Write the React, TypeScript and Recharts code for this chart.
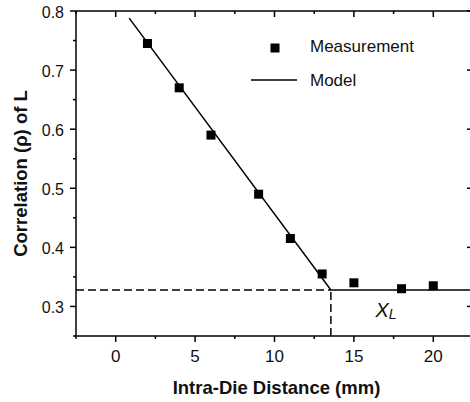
import React from "react";
import {
  ComposedChart,
  Line,
  Scatter,
  XAxis,
  YAxis,
  ReferenceLine,
  ReferenceDot,
  Legend,
  Label,
} from "recharts";

// measured points
const distance = [2, 4, 6, 9, 11, 13, 15, 18, 20];
const correlation = [0.745, 0.67, 0.59, 0.49, 0.415, 0.355, 0.34, 0.33, 0.335];

// piecewise model: falling line then flat at X_L
const modelX = [0.85, 13.55, 22.5];
const modelY = [0.788, 0.328, 0.328];

const xTicks = [-2.5, 0, 2.5, 5, 7.5, 10, 12.5, 15, 17.5, 20, 22.5];
const yTicks = [0.25, 0.3, 0.35, 0.4, 0.45, 0.5, 0.55, 0.6, 0.65, 0.7, 0.75, 0.8];

const xDomain = [-2.5, 22.5];
const yDomain = [0.25, 0.8];

const measurement = distance.map((x, i) => ({ x, y: correlation[i] }));
const model = modelX.map((x, i) => ({ x, y: modelY[i] }));
const kneeX = modelX[1];
const kneeY = modelY[1];

const FONT = "'Liberation Sans', Arial, Helvetica, sans-serif";
const INK = "#000";

const isMajor = (v: number, step: number) =>
  Math.abs(v / step - Math.round(v / step)) < 1e-6;

function BottomTick(props: any) {
  const { x, y, payload } = props;
  const major = isMajor(payload.value, 5);
  return (
    <g>
      <line x1={x} x2={x} y1={y} y2={y + (major ? 6 : 3)} stroke={INK} strokeWidth={1.5} />
      {major && (
        <text x={x} y={y + 26} textAnchor="middle" fontSize={17} fontFamily={FONT} fill="#111">
          {payload.value}
        </text>
      )}
    </g>
  );
}

function TopTick(props: any) {
  const { x, y, payload } = props;
  const major = isMajor(payload.value, 5);
  return <line x1={x} x2={x} y1={y} y2={y + (major ? 6 : 3)} stroke={INK} strokeWidth={1.5} />;
}

function LeftTick(props: any) {
  const { x, y, payload } = props;
  const major = isMajor(payload.value, 0.1);
  return (
    <g>
      <line x1={x} x2={x - (major ? 6 : 3)} y1={y} y2={y} stroke={INK} strokeWidth={1.5} />
      {major && (
        <text x={x - 12} y={y + 7} textAnchor="end" fontSize={16} fontFamily={FONT} fill="#111">
          {payload.value.toFixed(1)}
        </text>
      )}
    </g>
  );
}

function RightTick(props: any) {
  const { x, y, payload } = props;
  const major = isMajor(payload.value, 0.1);
  return <line x1={x} x2={x - (major ? 6 : 3)} y1={y} y2={y} stroke={INK} strokeWidth={1.5} />;
}

function SquareDot(props: any) {
  const { cx, cy } = props;
  return <rect x={cx - 4.5} y={cy - 4.5} width={9} height={9} fill={INK} />;
}

function XLText(props: any) {
  const { cx, cy } = props;
  return (
    <text x={cx} y={cy} textAnchor="middle" fontStyle="italic" fontSize={20} fontFamily={FONT} fill="#111">
      X<tspan fontSize={14} dy={2}>L</tspan>
    </text>
  );
}

function LegendBox({ payload }: any) {
  const names = (payload || []).map((p: any) => p.value);
  return (
    <svg width={190} height={64} style={{ display: "block" }}>
      <rect x={25.5} y={13.5} width={9} height={9} fill={INK} />
      <text x={65} y={22} fontSize={17} fontFamily={FONT} fill="#111">
        {names[0] ?? "Measurement"}
      </text>
      <line x1={6} x2={52} y1={50} y2={50} stroke={INK} strokeWidth={1.5} />
      <text x={65} y={56} fontSize={17} fontFamily={FONT} fill="#111">
        {names[1] ?? "Model"}
      </text>
    </svg>
  );
}

function YTitle(props: any) {
  const { viewBox } = props;
  const cx = 20;
  const cy = viewBox.y + viewBox.height / 2;
  return (
    <text
      x={cx}
      y={cy}
      transform={`rotate(-90, ${cx}, ${cy})`}
      textAnchor="middle"
      dominantBaseline="central"
      fontSize={18.5}
      fontWeight="bold"
      fontFamily={FONT}
      fill="#111"
    >
      Correlation (ρ) of L
    </text>
  );
}

function XTitle(props: any) {
  const { viewBox } = props;
  return (
    <text
      x={viewBox.x + viewBox.width / 2 + 2}
      y={viewBox.y + 58}
      textAnchor="middle"
      fontSize={18.5}
      fontWeight="bold"
      fontFamily={FONT}
      fill="#111"
    >
      Intra-Die Distance (mm)
    </text>
  );
}

export default function App() {
  return (
    <div style={{ position: "absolute", left: 0, top: 0, width: 470, height: 402, overflow: "hidden", background: "#fff" }}>
      <ComposedChart width={474} height={402} margin={{ top: 10, right: 0, bottom: 65, left: 75 }}>
        <XAxis
          xAxisId="b"
          dataKey="x"
          type="number"
          domain={xDomain}
          ticks={xTicks}
          allowDataOverflow
          height={1}
          tickSize={0}
          tickMargin={0}
          tick={<BottomTick />}
          axisLine={{ stroke: INK, strokeWidth: 1.5 }}
          interval={0}
        >
          <Label content={<XTitle />} />
        </XAxis>
        <XAxis
          xAxisId="t"
          dataKey="x"
          type="number"
          orientation="top"
          domain={xDomain}
          ticks={xTicks}
          allowDataOverflow
          height={1}
          tickSize={0}
          tickMargin={0}
          tick={<TopTick />}
          axisLine={{ stroke: INK, strokeWidth: 1.5 }}
          interval={0}
        />
        <YAxis
          yAxisId="l"
          type="number"
          domain={yDomain}
          ticks={yTicks}
          allowDataOverflow
          width={1}
          tickSize={0}
          tickMargin={0}
          tick={<LeftTick />}
          axisLine={{ stroke: INK, strokeWidth: 1.5 }}
          interval={0}
        >
          <Label content={<YTitle />} />
        </YAxis>
        <YAxis
          yAxisId="r"
          type="number"
          orientation="right"
          domain={yDomain}
          ticks={yTicks}
          allowDataOverflow
          width={1}
          tickSize={0}
          tickMargin={0}
          tick={<RightTick />}
          axisLine={{ stroke: INK, strokeWidth: 1.5 }}
          interval={0}
        />
        <ReferenceLine
          xAxisId="b"
          yAxisId="l"
          segment={[{ x: xDomain[0], y: kneeY }, { x: kneeX, y: kneeY }]}
          stroke={INK}
          strokeWidth={1.5}
          strokeDasharray="8 4"
        />
        <ReferenceLine
          xAxisId="b"
          yAxisId="l"
          segment={[{ x: kneeX, y: yDomain[0] }, { x: kneeX, y: kneeY }]}
          stroke={INK}
          strokeWidth={1.5}
          strokeDasharray="8 4"
        />
        <Line
          xAxisId="b"
          yAxisId="l"
          data={model}
          dataKey="y"
          name="Model"
          type="linear"
          stroke={INK}
          strokeWidth={1.5}
          dot={false}
          activeDot={false}
          isAnimationActive={false}
        />
        <Scatter
          xAxisId="b"
          yAxisId="l"
          data={measurement}
          dataKey="y"
          name="Measurement"
          fill={INK}
          shape={<SquareDot />}
          isAnimationActive={false}
        />
        <ReferenceDot xAxisId="b" yAxisId="l" x={17.02} y={0.282} r={0} shape={<XLText />} />
        <Legend
          layout="vertical"
          align="center"
          verticalAlign="middle"
          wrapperStyle={{ top: 30, left: 245, width: 190 }}
          payload={[
            { value: "Measurement", type: "square", color: INK },
            { value: "Model", type: "line", color: INK },
          ] as any}
          content={<LegendBox />}
        />
      </ComposedChart>
    </div>
  );
}
